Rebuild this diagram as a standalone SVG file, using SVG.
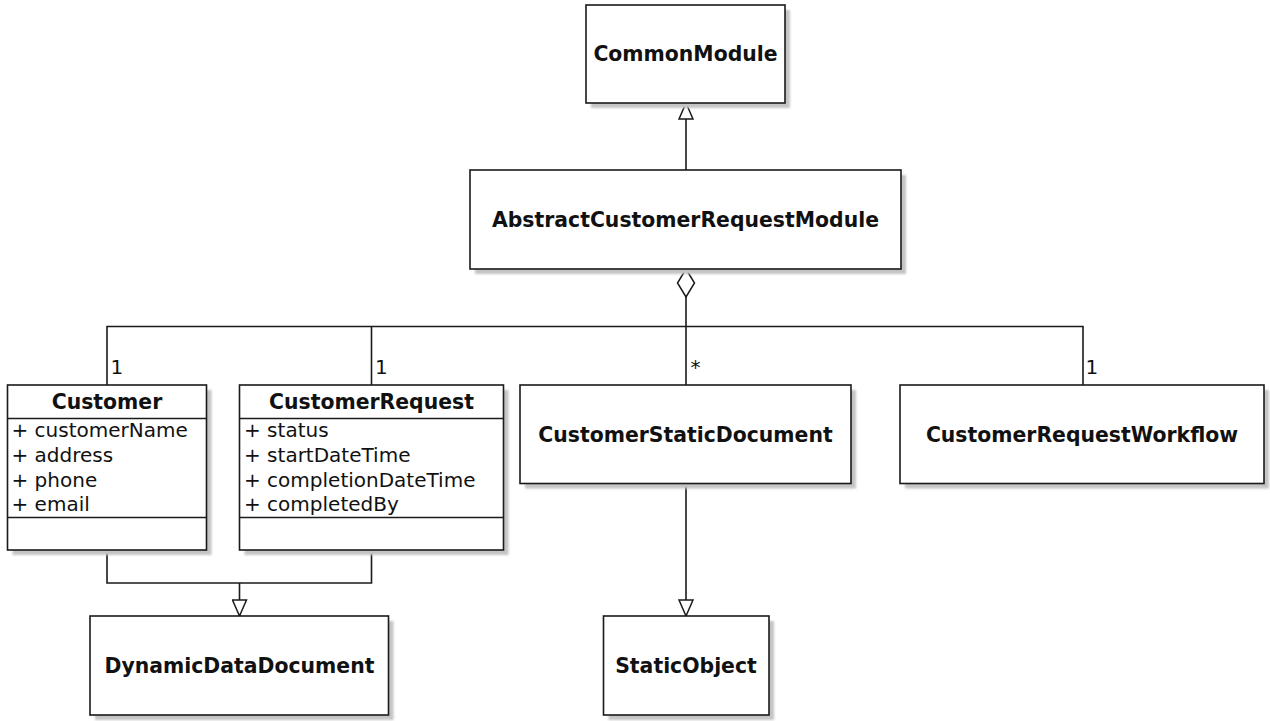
<svg xmlns="http://www.w3.org/2000/svg" width="1270" height="721" viewBox="0 0 1270 721">
  <style>
    .box { fill: #ffffff; stroke: #1a1a1a; stroke-width: 1.6; }
    .shadow { fill: #c4c4c4; filter: url(#soft); }
    .title { font-family: "DejaVu Sans", Verdana, sans-serif; font-weight: bold; font-size: 20.4px; fill: #111111; text-anchor: middle; }
    .attr { font-family: "DejaVu Sans", Verdana, sans-serif; font-size: 20px; fill: #111111; }
    .mult { font-family: "DejaVu Sans", Verdana, sans-serif; font-size: 20px; fill: #111111; }
    .line { fill: none; stroke: #1a1a1a; stroke-width: 1.6; }
    .sep { stroke: #1a1a1a; stroke-width: 1.6; }
  </style>
  <defs>
    <filter id="soft" x="-5%" y="-5%" width="110%" height="110%">
      <feGaussianBlur stdDeviation="0.8"/>
    </filter>
    <!-- hollow triangle for generalization -->
    <marker id="gen" viewBox="0 0 18 16" refX="17" refY="8" markerWidth="18" markerHeight="16" markerUnits="userSpaceOnUse" orient="auto">
      <path d="M1,1 L17,8 L1,15 Z" fill="#ffffff" stroke="#1a1a1a" stroke-width="1.5"/>
    </marker>
    <!-- hollow diamond for aggregation -->
    <marker id="agg" viewBox="0 0 30 20" refX="1" refY="10" markerWidth="30" markerHeight="20" markerUnits="userSpaceOnUse" orient="auto">
      <path d="M1,10 L15,1.5 L29,10 L15,18.5 Z" fill="#ffffff" stroke="#1a1a1a" stroke-width="1.5"/>
    </marker>
  </defs>

  <rect width="1270" height="721" fill="#ffffff"/>

  <!-- connectors -->
  <g id="connectors">
    <!-- AbstractCustomerRequestModule generalizes CommonModule -->
    <path class="line" d="M686,170 L686,103" marker-end="url(#gen)"/>
    <!-- aggregation bus -->
    <path class="line" d="M686,269 L686,385" marker-start="url(#agg)"/>
    <path class="line" d="M107,385 L107,326.5 L1083,326.5 L1083,385"/>
    <path class="line" d="M371.5,326.5 L371.5,385"/>
    <!-- Customer / CustomerRequest generalize DynamicDataDocument -->
    <path class="line" d="M107,550 L107,583 L371.5,583 L371.5,550"/>
    <path class="line" d="M239.5,583 L239.5,616" marker-end="url(#gen)"/>
    <!-- CustomerStaticDocument generalizes StaticObject -->
    <path class="line" d="M686,483 L686,616" marker-end="url(#gen)"/>
    <!-- multiplicities -->
    <text class="mult" x="110.5" y="374">1</text>
    <text class="mult" x="375" y="374">1</text>
    <text class="mult" x="690.5" y="374">*</text>
    <text class="mult" x="1085.5" y="374">1</text>
  </g>

  <g id="CommonModule">
    <rect class="shadow" x="591" y="10" width="199" height="98"/>
    <rect class="box" x="586" y="5" width="199" height="98"/>
    <text class="title" x="685.5" y="61">CommonModule</text>
  </g>

  <g id="AbstractCustomerRequestModule">
    <rect class="shadow" x="475" y="175" width="431" height="99"/>
    <rect class="box" x="470" y="170" width="431" height="99"/>
    <text class="title" x="685.5" y="226.5">AbstractCustomerRequestModule</text>
  </g>

  <g id="Customer">
    <rect class="shadow" x="12.5" y="390" width="199" height="165"/>
    <rect class="box" x="7.5" y="385" width="199" height="165"/>
    <line class="sep" x1="7.5" y1="418.5" x2="206.5" y2="418.5"/>
    <line class="sep" x1="7.5" y1="517.5" x2="206.5" y2="517.5"/>
    <text class="title" x="107" y="408.5">Customer</text>
    <text class="attr" x="11.5" y="437">+ customerName</text>
    <text class="attr" x="11.5" y="462">+ address</text>
    <text class="attr" x="11.5" y="487">+ phone</text>
    <text class="attr" x="11.5" y="511">+ email</text>
  </g>

  <g id="CustomerRequest">
    <rect class="shadow" x="244.5" y="390" width="264" height="165"/>
    <rect class="box" x="239.5" y="385" width="264" height="165"/>
    <line class="sep" x1="239.5" y1="418.5" x2="503.5" y2="418.5"/>
    <line class="sep" x1="239.5" y1="517.5" x2="503.5" y2="517.5"/>
    <text class="title" x="371.5" y="408.5">CustomerRequest</text>
    <text class="attr" x="244" y="437">+ status</text>
    <text class="attr" x="244" y="462">+ startDateTime</text>
    <text class="attr" x="244" y="487">+ completionDateTime</text>
    <text class="attr" x="244" y="511">+ completedBy</text>
  </g>

  <g id="CustomerStaticDocument">
    <rect class="shadow" x="525" y="390" width="331" height="98.5"/>
    <rect class="box" x="520" y="385" width="331" height="98.5"/>
    <text class="title" x="685.5" y="441.5">CustomerStaticDocument</text>
  </g>

  <g id="CustomerRequestWorkflow">
    <rect class="shadow" x="905" y="390" width="364" height="98.5"/>
    <rect class="box" x="900" y="385" width="364" height="98.5"/>
    <text class="title" x="1082" y="441.5">CustomerRequestWorkflow</text>
  </g>

  <g id="DynamicDataDocument">
    <rect class="shadow" x="95" y="621" width="298.5" height="99"/>
    <rect class="box" x="90" y="616" width="298.5" height="99"/>
    <text class="title" x="239.5" y="672.5">DynamicDataDocument</text>
  </g>

  <g id="StaticObject">
    <rect class="shadow" x="608.5" y="621" width="165.5" height="99"/>
    <rect class="box" x="603.5" y="616" width="165.5" height="99"/>
    <text class="title" x="686" y="672.5">StaticObject</text>
  </g>
</svg>
